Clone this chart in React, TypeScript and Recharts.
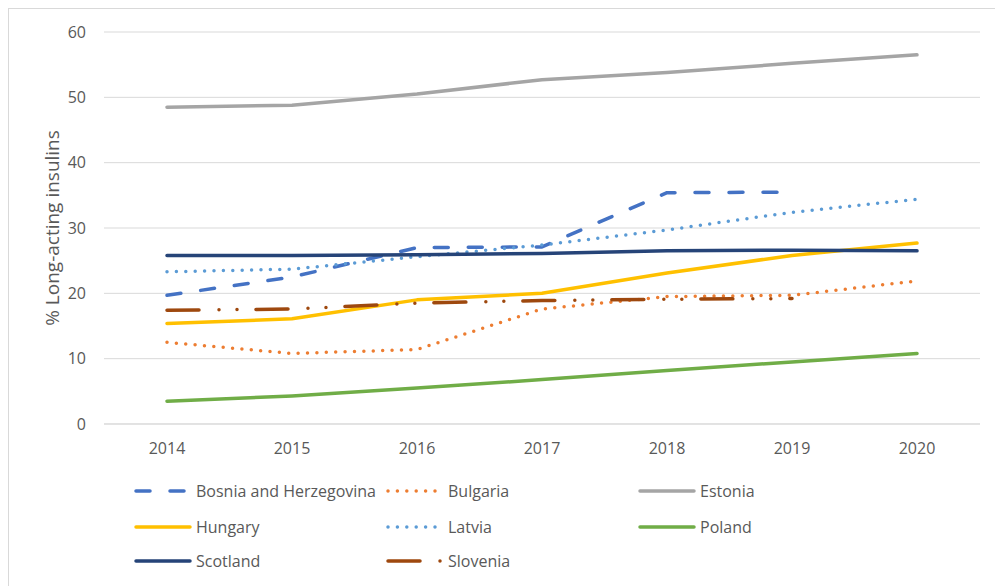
import React from 'react';
import { LineChart, Line, XAxis, YAxis, CartesianGrid } from 'recharts';

const years = ['2014', '2015', '2016', '2017', '2018', '2019', '2020'];
const bosnia = [19.7, 22.5, 27.0, 27.1, 35.4, 35.5, null];
const bulgaria = [12.5, 10.8, 11.4, 17.6, 19.5, 19.7, 21.9];
const estonia = [48.5, 48.8, 50.5, 52.7, 53.8, 55.2, 56.5];
const hungary = [15.4, 16.1, 19.0, 20.0, 23.1, 25.8, 27.7];
const latvia = [23.3, 23.7, 25.6, 27.4, 29.7, 32.4, 34.4];
const poland = [3.5, 4.3, 5.5, 6.8, 8.2, 9.5, 10.8];
const scotland = [25.8, 25.8, 25.9, 26.1, 26.5, 26.6, 26.5];
const slovenia = [17.4, 17.6, 18.5, 18.9, 19.1, 19.2, null];
const yTicks = [0, 10, 20, 30, 40, 50, 60];

const seriesDefs = [
  { key: 'Bosnia and Herzegovina', values: bosnia, color: '#4472C4', dash: '14 20' },
  { key: 'Bulgaria', values: bulgaria, color: '#ED7D31', dash: '0 9.4' },
  { key: 'Estonia', values: estonia, color: '#A5A5A5', dash: undefined },
  { key: 'Hungary', values: hungary, color: '#FFC000', dash: undefined },
  { key: 'Latvia', values: latvia, color: '#5B9BD5', dash: '0 9.4' },
  { key: 'Poland', values: poland, color: '#70AD47', dash: undefined },
  { key: 'Scotland', values: scotland, color: '#264478', dash: undefined },
  { key: 'Slovenia', values: slovenia, color: '#9E480E', dash: '32 20 0 18 0 19' },
];

const data = years.map((y, i) => {
  const row: any = { year: y };
  seriesDefs.forEach((s) => {
    row[s.key] = s.values[i];
  });
  return row;
});

const FONT = '"Open Sans", sans-serif';
const TXT = '#595959';

const legendCols = [134, 386, 638];
const legendRows = [491, 527, 561];

export default function App() {
  return (
    <div
      style={{
        position: 'absolute',
        left: 0,
        top: 0,
        width: 995,
        height: 586,
        overflow: 'hidden',
        background: '#fff',
        fontFamily: FONT,
      }}
    >
      <div
        style={{
          position: 'absolute',
          left: 8,
          top: 8,
          width: 1100,
          height: 700,
          border: '1px solid #D9D9D9',
          boxSizing: 'border-box',
        }}
      />
      <div style={{ position: 'absolute', left: 0, top: 0 }}>
        <LineChart
          width={995}
          height={586}
          data={data}
          margin={{ top: 32, right: 15, bottom: 122, left: 0 }}
        >
          <CartesianGrid vertical={false} stroke="#D9D9D9" strokeWidth={1} />
          <XAxis
            dataKey="year"
            height={40}
            padding={{ left: 63, right: 63 }}
            tickLine={false}
            tickSize={0}
            tickMargin={19}
            axisLine={{ stroke: '#D9D9D9' }}
            tick={{ fill: TXT, fontSize: 16, fontFamily: FONT }}
          />
          <YAxis
            width={104}
            domain={[0, 60]}
            ticks={yTicks}
            axisLine={false}
            tickLine={false}
            tickSize={0}
            tickMargin={18}
            tick={{ fill: TXT, fontSize: 16, fontFamily: FONT }}
            label={{
              value: '% Long-acting insulins',
              angle: -90,
              position: 'center',
              dx: 0,
              fill: TXT,
              fontSize: 19,
              fontFamily: FONT,
            }}
          />
          {seriesDefs.map((s) => (
            <Line
              key={s.key}
              dataKey={s.key}
              type="linear"
              stroke={s.color}
              strokeWidth={3.5}
              strokeDasharray={s.dash}
              strokeLinecap="round"
              strokeLinejoin="round"
              dot={false}
              activeDot={false}
              connectNulls={false}
              isAnimationActive={false}
            />
          ))}
        </LineChart>
      </div>
      {seriesDefs.map((s, i) => {
        const x = legendCols[i % 3];
        const y = legendRows[Math.floor(i / 3)];
        return (
          <div
            key={s.key}
            style={{
              position: 'absolute',
              left: x,
              top: y - 12,
              height: 24,
              display: 'flex',
              alignItems: 'center',
              whiteSpace: 'nowrap',
            }}
          >
            <svg width={58} height={24} style={{ display: 'block' }}>
              <line
                x1={2}
                y1={12}
                x2={56}
                y2={12}
                stroke={s.color}
                strokeWidth={3.5}
                strokeLinecap="round"
                strokeDasharray={s.dash}
              />
            </svg>
            <span style={{ marginLeft: 4, fontSize: 16, color: TXT, fontFamily: FONT }}>{s.key}</span>
          </div>
        );
      })}
    </div>
  );
}
